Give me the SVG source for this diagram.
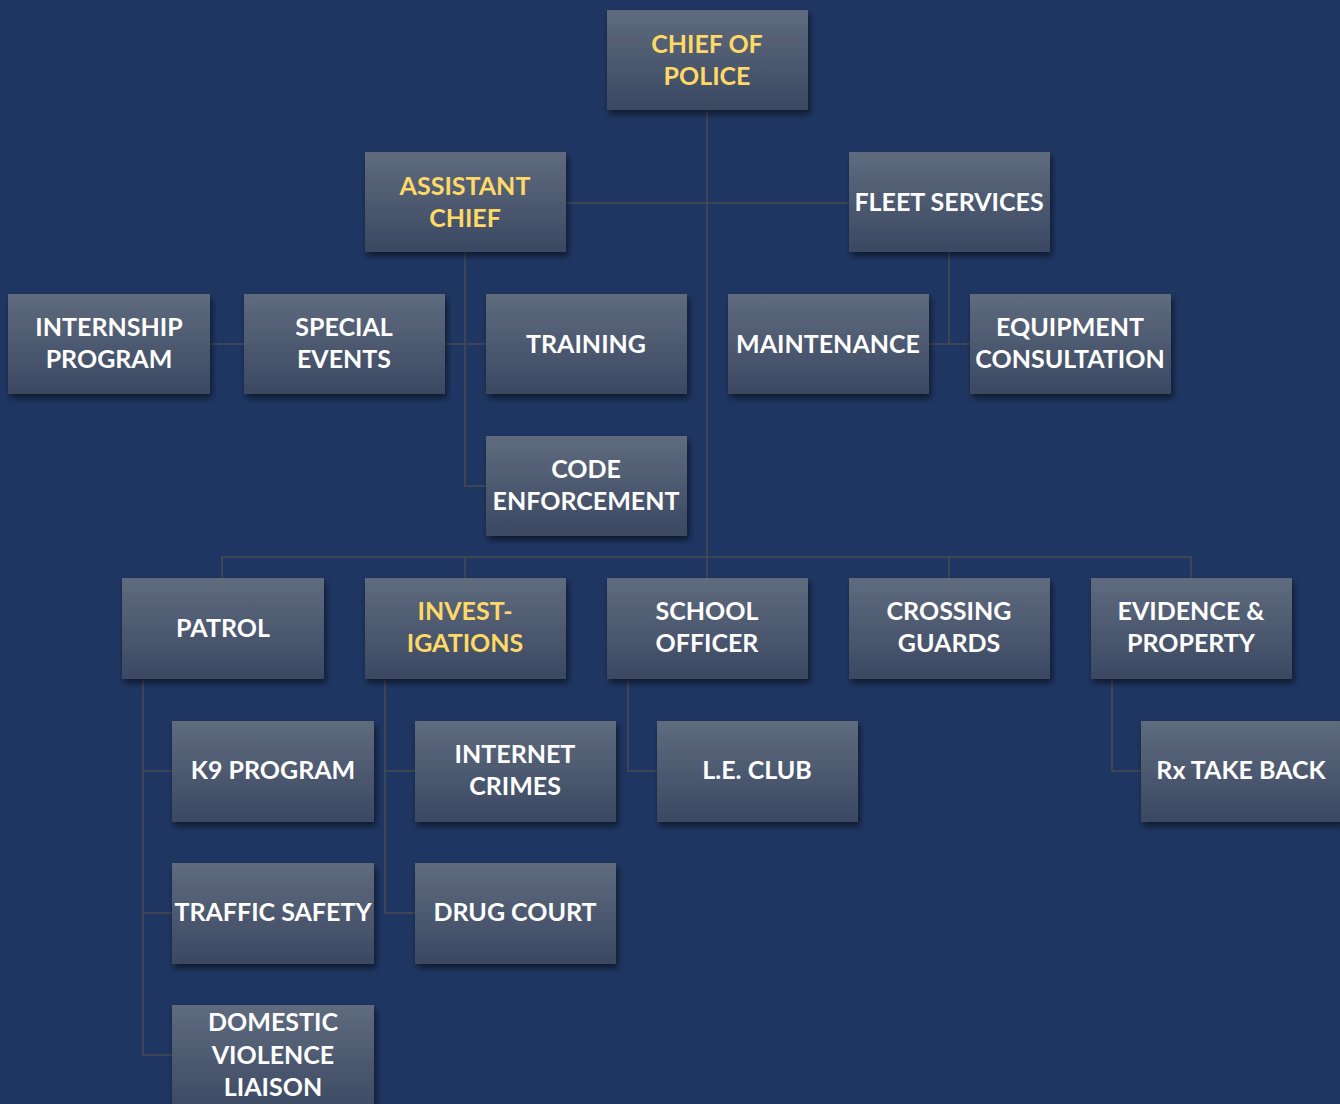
<svg xmlns="http://www.w3.org/2000/svg" width="1340" height="1104" viewBox="0 0 1340 1104">
<defs>
<linearGradient id="g" x1="0" y1="0" x2="0" y2="1">
<stop offset="0" stop-color="#5f6b7e"/>
<stop offset="1" stop-color="#3b4862"/>
</linearGradient>
<filter id="sh" x="-10%" y="-10%" width="130%" height="140%">
<feDropShadow dx="2" dy="4" stdDeviation="3" flood-color="#000" flood-opacity="0.55"/>
</filter>
</defs>
<style>
.b{fill:url(#g);filter:url(#sh)}
text{font-family:Lato,"Liberation Sans",sans-serif;font-weight:bold;font-size:25px;fill:#ffffff;text-anchor:middle}
.y{fill:#ffd966}
.c{stroke:#3c4655;stroke-width:2;fill:none}
</style>
<rect width="1340" height="1104" fill="#1f3662"/>
<g id="connectors" class="c">
<path d="M707 110V557"/>
<path d="M566 203H849"/>
<path d="M465 252V486H486"/>
<path d="M445 344H486"/>
<path d="M210 344H244"/>
<path d="M949 252V344"/>
<path d="M929 344H970"/>
<path d="M222 578V557H1191V578"/>
<path d="M465 557V578"/>
<path d="M707 557V578"/>
<path d="M949 557V578"/>
<path d="M143 679V1055H172"/>
<path d="M143 771H172"/>
<path d="M143 913H172"/>
<path d="M385 679V913H415"/>
<path d="M385 771H415"/>
<path d="M628 679V771H657"/>
<path d="M1112 679V771H1141"/>
</g>
<g id="chief"><rect class="b" x="607" y="10" width="201" height="100"/><text class="y" x="707" y="53">CHIEF OF</text><text class="y" x="707" y="85">POLICE</text></g>
<g id="assistant-chief"><rect class="b" x="365" y="152" width="201" height="100"/><text class="y" x="465" y="195">ASSISTANT</text><text class="y" x="465" y="227">CHIEF</text></g>
<g id="fleet-services"><rect class="b" x="849" y="152" width="201" height="100"/><text x="949" y="211">FLEET SERVICES</text></g>
<g id="internship"><rect class="b" x="8" y="294" width="202" height="100"/><text x="109" y="336">INTERNSHIP</text><text x="109" y="368">PROGRAM</text></g>
<g id="special-events"><rect class="b" x="244" y="294" width="201" height="100"/><text x="344" y="336">SPECIAL</text><text x="344" y="368">EVENTS</text></g>
<g id="training"><rect class="b" x="486" y="294" width="201" height="100"/><text x="586" y="353">TRAINING</text></g>
<g id="maintenance"><rect class="b" x="728" y="294" width="201" height="100"/><text x="828" y="353">MAINTENANCE</text></g>
<g id="equipment"><rect class="b" x="970" y="294" width="201" height="100"/><text x="1070" y="336">EQUIPMENT</text><text x="1070" y="368">CONSULTATION</text></g>
<g id="code-enforcement"><rect class="b" x="486" y="436" width="201" height="100"/><text x="586" y="478">CODE</text><text x="586" y="510">ENFORCEMENT</text></g>
<g id="patrol"><rect class="b" x="122" y="578" width="202" height="101"/><text x="223" y="637">PATROL</text></g>
<g id="investigations"><rect class="b" x="365" y="578" width="201" height="101"/><text class="y" x="465" y="620">INVEST-</text><text class="y" x="465" y="652">IGATIONS</text></g>
<g id="school-officer"><rect class="b" x="607" y="578" width="201" height="101"/><text x="707" y="620">SCHOOL</text><text x="707" y="652">OFFICER</text></g>
<g id="crossing-guards"><rect class="b" x="849" y="578" width="201" height="101"/><text x="949" y="620">CROSSING</text><text x="949" y="652">GUARDS</text></g>
<g id="evidence"><rect class="b" x="1091" y="578" width="201" height="101"/><text x="1191" y="620">EVIDENCE &amp;</text><text x="1191" y="652">PROPERTY</text></g>
<g id="k9"><rect class="b" x="172" y="721" width="202" height="101"/><text x="273" y="779">K9 PROGRAM</text></g>
<g id="internet-crimes"><rect class="b" x="415" y="721" width="201" height="101"/><text x="515" y="763">INTERNET</text><text x="515" y="795">CRIMES</text></g>
<g id="le-club"><rect class="b" x="657" y="721" width="201" height="101"/><text x="757" y="779">L.E. CLUB</text></g>
<g id="rx-take-back"><rect class="b" x="1141" y="721" width="201" height="101"/><text x="1241" y="779">Rx TAKE BACK</text></g>
<g id="traffic-safety"><rect class="b" x="172" y="863" width="202" height="101"/><text x="273" y="921">TRAFFIC SAFETY</text></g>
<g id="drug-court"><rect class="b" x="415" y="863" width="201" height="101"/><text x="515" y="921">DRUG COURT</text></g>
<g id="domestic-violence"><rect class="b" x="172" y="1005" width="202" height="110"/><text x="273" y="1031">DOMESTIC</text><text x="273" y="1064">VIOLENCE</text><text x="273" y="1096">LIAISON</text></g>
</svg>
